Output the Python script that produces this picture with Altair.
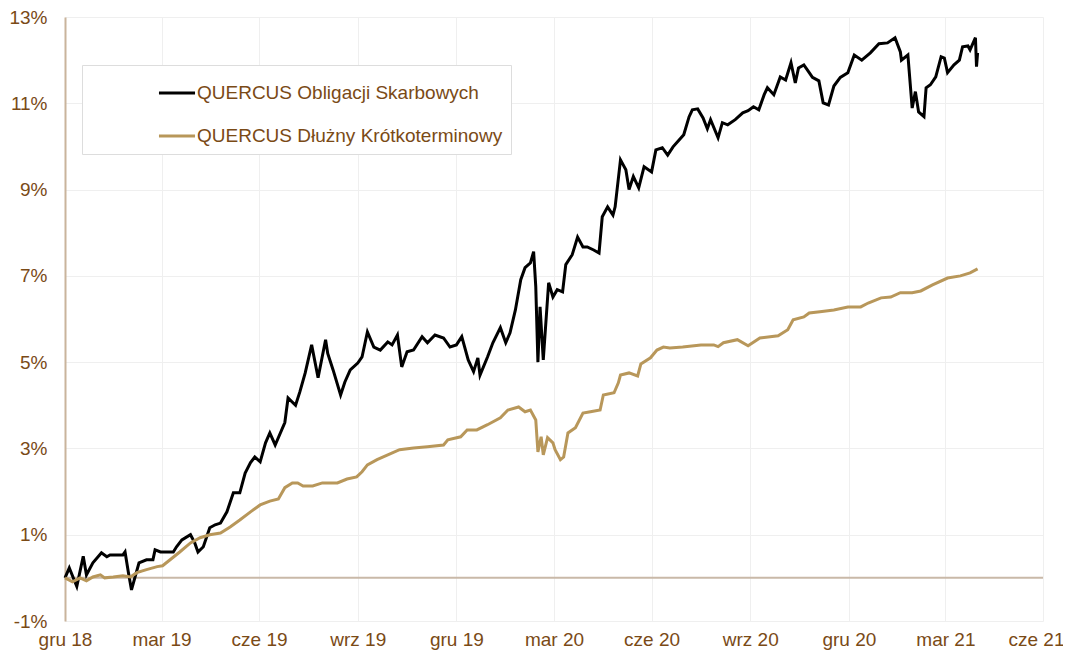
import altair as alt
import pandas as pd

SERIES = ["QUERCUS Obligacji Skarbowych", "QUERCUS Dłużny Krótkoterminowy"]
COLORS = ["#000000", "#B8975A"]
MONTHS_PL = ["sty", "lut", "mar", "kwi", "maj", "cze", "lip", "sie", "wrz", "paź", "lis", "gru"]
Y_TICKS = [-1, 1, 3, 5, 7, 9, 11, 13]
X_TICKS = ["2018-12-31", "2019-03-31", "2019-06-30", "2019-09-30", "2019-12-31",
           "2020-03-31", "2020-06-30", "2020-09-30", "2020-12-31", "2021-03-31", "2021-06-30"]
ZERO_LINE = [0]

obl_dates = [
    "2018-12-31", "2019-01-04", "2019-01-11", "2019-01-17", "2019-01-20", "2019-01-26",
    "2019-02-03", "2019-02-08", "2019-02-11", "2019-02-23", "2019-02-25", "2019-02-28",
    "2019-03-03", "2019-03-10", "2019-03-17", "2019-03-23", "2019-03-25", "2019-03-30",
    "2019-04-11", "2019-04-14", "2019-04-19", "2019-04-27", "2019-05-01", "2019-05-04",
    "2019-05-09", "2019-05-15", "2019-05-20", "2019-05-25", "2019-05-31", "2019-06-06",
    "2019-06-12", "2019-06-17", "2019-06-22", "2019-06-26", "2019-07-01", "2019-07-06",
    "2019-07-10", "2019-07-15", "2019-07-24", "2019-07-27", "2019-08-03", "2019-08-07",
    "2019-08-12", "2019-08-18", "2019-08-24", "2019-08-31", "2019-09-02", "2019-09-07",
    "2019-09-14", "2019-09-18", "2019-09-23", "2019-09-30", "2019-10-04", "2019-10-09",
    "2019-10-15", "2019-10-21", "2019-10-28", "2019-11-01", "2019-11-06", "2019-11-10",
    "2019-11-15", "2019-11-21", "2019-11-29", "2019-12-04", "2019-12-11", "2019-12-19",
    "2019-12-25", "2019-12-31", "2020-01-05", "2020-01-11", "2020-01-16", "2020-01-20",
    "2020-01-22", "2020-01-29", "2020-02-03", "2020-02-10", "2020-02-15", "2020-02-19",
    "2020-02-24", "2020-02-29", "2020-03-04", "2020-03-09", "2020-03-12", "2020-03-14",
    "2020-03-16", "2020-03-18", "2020-03-21", "2020-03-26", "2020-03-30", "2020-04-03",
    "2020-04-08", "2020-04-11", "2020-04-17", "2020-04-22", "2020-04-27", "2020-05-01",
    "2020-05-07", "2020-05-12", "2020-05-15", "2020-05-20", "2020-05-25", "2020-05-27",
    "2020-06-01", "2020-06-06", "2020-06-09", "2020-06-13", "2020-06-18", "2020-06-23",
    "2020-06-30", "2020-07-04", "2020-07-10", "2020-07-15", "2020-07-20", "2020-07-24",
    "2020-07-30", "2020-08-04", "2020-08-07", "2020-08-12", "2020-08-17", "2020-08-21",
    "2020-08-24", "2020-08-31", "2020-09-04", "2020-09-09", "2020-09-16", "2020-09-23",
    "2020-09-28", "2020-10-03", "2020-10-08", "2020-10-13", "2020-10-16", "2020-10-22",
    "2020-10-28", "2020-11-02", "2020-11-07", "2020-11-11", "2020-11-14", "2020-11-19",
    "2020-11-24", "2020-11-27", "2020-12-03", "2020-12-07", "2020-12-12", "2020-12-17",
    "2020-12-23", "2020-12-30", "2021-01-05", "2021-01-12", "2021-01-20", "2021-01-28",
    "2021-02-05", "2021-02-12", "2021-02-17", "2021-02-18", "2021-02-24", "2021-02-28",
    "2021-03-03", "2021-03-06", "2021-03-11", "2021-03-13", "2021-03-17", "2021-03-22",
    "2021-03-27", "2021-03-30", "2021-04-02", "2021-04-08", "2021-04-13", "2021-04-16",
    "2021-04-21", "2021-04-23", "2021-04-28", "2021-04-29", "2021-04-30",
]
obl_values = [
    0.00, 0.23, -0.20, 0.50, 0.07, 0.35,
    0.58, 0.49, 0.53, 0.53, 0.60, 0.14,
    -0.28, 0.35, 0.42, 0.42, 0.65, 0.60,
    0.60, 0.72, 0.88, 1.00, 0.81, 0.60,
    0.72, 1.16, 1.23, 1.27, 1.53, 1.97,
    1.97, 2.43, 2.67, 2.80, 2.69, 3.13,
    3.36, 3.08, 3.60, 4.17, 4.00, 4.31,
    4.75, 5.40, 4.64, 5.52, 5.20, 4.82,
    4.24, 4.54, 4.82, 4.98, 5.12, 5.70,
    5.35, 5.28, 5.47, 5.40, 5.63, 4.89,
    5.24, 5.28, 5.59, 5.45, 5.63, 5.56,
    5.35, 5.40, 5.59, 5.05, 4.78, 5.10,
    4.70, 5.12, 5.45, 5.80, 5.45, 5.68,
    6.21, 6.91, 7.19, 7.30, 7.56, 6.75,
    5.00, 6.28, 5.05, 6.84, 6.51, 6.68,
    6.63, 7.26, 7.49, 7.90, 7.67, 7.67,
    7.60, 7.53, 8.37, 8.60, 8.41, 8.60,
    9.69, 9.46, 9.00, 9.30, 9.04, 9.53,
    9.41, 9.92, 9.97, 9.80, 9.99, 10.10,
    10.27, 10.69, 10.85, 10.87, 10.66, 10.41,
    10.62, 10.20, 10.55, 10.50, 10.62, 10.78,
    10.83, 10.92, 10.85, 11.20, 11.36, 11.20,
    11.61, 11.54, 11.94, 11.47, 11.82, 11.89,
    11.71, 11.60, 11.52, 11.01, 10.96, 11.40,
    11.60, 11.71, 12.12, 12.00, 12.17, 12.38,
    12.40, 12.52, 12.19, 12.00, 12.12, 10.89,
    11.27, 10.80, 10.69, 11.36, 11.43, 11.61,
    12.08, 12.05, 11.71, 11.89, 12.00, 12.31,
    12.33, 12.24, 12.52, 11.85, 12.17,
]

dk_dates = [
    "2018-12-31", "2019-01-07", "2019-01-14", "2019-01-20", "2019-01-26", "2019-02-02",
    "2019-02-06", "2019-02-14", "2019-02-23", "2019-03-02", "2019-03-08", "2019-03-17",
    "2019-03-27", "2019-04-01", "2019-04-08", "2019-04-17", "2019-04-27", "2019-05-06",
    "2019-05-15", "2019-05-25", "2019-06-03", "2019-06-12", "2019-06-22", "2019-07-01",
    "2019-07-10", "2019-07-18", "2019-07-24", "2019-07-31", "2019-08-05", "2019-08-10",
    "2019-08-19", "2019-08-28", "2019-09-11", "2019-09-20", "2019-09-29", "2019-10-04",
    "2019-10-09", "2019-10-18", "2019-10-28", "2019-11-08", "2019-11-21", "2019-12-04",
    "2019-12-19", "2019-12-23", "2020-01-04", "2020-01-10", "2020-01-19", "2020-01-29",
    "2020-02-10", "2020-02-17", "2020-02-27", "2020-03-04", "2020-03-09", "2020-03-14",
    "2020-03-16", "2020-03-19", "2020-03-21", "2020-03-25", "2020-03-30", "2020-04-01",
    "2020-04-06", "2020-04-09", "2020-04-13", "2020-04-20", "2020-04-27", "2020-05-04",
    "2020-05-13", "2020-05-16", "2020-05-26", "2020-05-30", "2020-06-01", "2020-06-09",
    "2020-06-17", "2020-06-20", "2020-06-29", "2020-07-05", "2020-07-11", "2020-07-17",
    "2020-07-29", "2020-08-15", "2020-08-27", "2020-08-31", "2020-09-05", "2020-09-18",
    "2020-09-28", "2020-10-09", "2020-10-26", "2020-11-04", "2020-11-09", "2020-11-19",
    "2020-11-24", "2020-12-04", "2020-12-17", "2020-12-30", "2021-01-11", "2021-01-18",
    "2021-01-30", "2021-02-08", "2021-02-17", "2021-02-28", "2021-03-08", "2021-03-19",
    "2021-04-02", "2021-04-14", "2021-04-23", "2021-04-30",
]
dk_values = [
    0.00, -0.09, 0.00, -0.07, 0.02, 0.07,
    0.00, 0.02, 0.05, 0.02, 0.12, 0.19,
    0.26, 0.28, 0.42, 0.60, 0.81, 0.93,
    1.00, 1.04, 1.18, 1.34, 1.53, 1.69,
    1.78, 1.83, 2.09, 2.20, 2.20, 2.13,
    2.13, 2.20, 2.20, 2.29, 2.34, 2.46,
    2.62, 2.74, 2.85, 2.97, 3.01, 3.04,
    3.08, 3.20, 3.27, 3.43, 3.43, 3.55,
    3.71, 3.89, 3.96, 3.85, 3.89, 3.66,
    2.92, 3.27, 2.85, 3.25, 3.13, 2.97,
    2.74, 2.80, 3.36, 3.48, 3.82, 3.85,
    3.89, 4.24, 4.29, 4.52, 4.70, 4.75,
    4.68, 4.96, 5.10, 5.28, 5.35, 5.33,
    5.35, 5.40, 5.40, 5.36, 5.45, 5.52,
    5.38, 5.56, 5.61, 5.75, 5.98, 6.05,
    6.14, 6.17, 6.21, 6.28, 6.28, 6.37,
    6.49, 6.51, 6.61, 6.61, 6.65, 6.79,
    6.95, 7.00, 7.07, 7.16,
]

BROWN = "#7A4A16"
FONT = "Liberation Sans"
GRID = "#EFEFEF"


def dt(s):
    y, m, d = (int(p) for p in s.split("-"))
    return alt.DateTime(year=y, month=m, date=d, utc=True)


df = pd.concat([
    pd.DataFrame({"date": obl_dates, "value": obl_values, "series": SERIES[0]}),
    pd.DataFrame({"date": dk_dates, "value": dk_values, "series": SERIES[1]}),
], ignore_index=True)

month_arr = "[" + ",".join("'" + m + "'" for m in MONTHS_PL) + "]"
x_label_expr = month_arr + "[utcmonth(datum.value)] + ' ' + utcFormat(datum.value, '%y')"
last_tick_test = "utcyear(datum.value) == 2021 && utcmonth(datum.value) == 5"

x_enc = alt.X(
    "date:T",
    scale=alt.Scale(type="utc", domain=[dt(X_TICKS[0]), dt(X_TICKS[-1])]),
    axis=alt.Axis(
        values=[dt(s) for s in X_TICKS], labelExpr=x_label_expr, title=None,
        grid=True, gridColor=GRID, gridWidth=1, domain=False, ticks=False,
        labelPadding=9, labelFontSize=19, labelColor=BROWN, labelFont=FONT,
        labelOverlap=False, labelFlush=False,
        labelOffset={"condition": {"test": last_tick_test, "value": -7}, "value": 0},
    ),
)
y_enc = alt.Y(
    "value:Q",
    scale=alt.Scale(domain=[-1, 13], nice=False, zero=False),
    axis=alt.Axis(
        values=Y_TICKS, labelExpr="datum.value + '%'", title=None,
        grid=True, gridColor=GRID, gridWidth=1, domain=True, domainColor="#C9B49C",
        domainWidth=2, ticks=False, labelPadding=18, labelFontSize=19,
        labelColor=BROWN, labelFont=FONT, labelOverlap=False, labelFlush=False,
    ),
)

zero = alt.Chart(pd.DataFrame({"y": ZERO_LINE})).mark_rule(
    color="#C9B9A8", strokeWidth=2
).encode(y=alt.Y("y:Q", scale=alt.Scale(domain=[-1, 13], nice=False, zero=False)))

lines = alt.Chart(df).mark_line(strokeWidth=3).encode(
    x=x_enc,
    y=y_enc,
    color=alt.Color(
        "series:N",
        scale=alt.Scale(domain=SERIES, range=COLORS),
        legend=alt.Legend(
            title=None, orient="none", legendX=17, legendY=48, direction="vertical",
            symbolType="stroke", symbolSize=1300, symbolStrokeWidth=3,
            symbolOffset=67, labelOffset=0, labelFontSize=19, labelColor=BROWN,
            labelFont=FONT, labelLimit=800, padding=8, rowPadding=13,
            strokeColor="#DDDDDD", fillColor="#FFFFFF", cornerRadius=0,
        ),
    ),
    order=alt.Order("date:T"),
)

chart = alt.layer(zero, lines).properties(
    width=978,
    height=604,
    autosize=alt.AutoSizeParams(type="none"),
    padding={"left": 57, "top": 9, "right": 20, "bottom": 32},
).configure_view(stroke=None)

chart.save("out.html", embed_options={"renderer": "svg", "actions": False})
